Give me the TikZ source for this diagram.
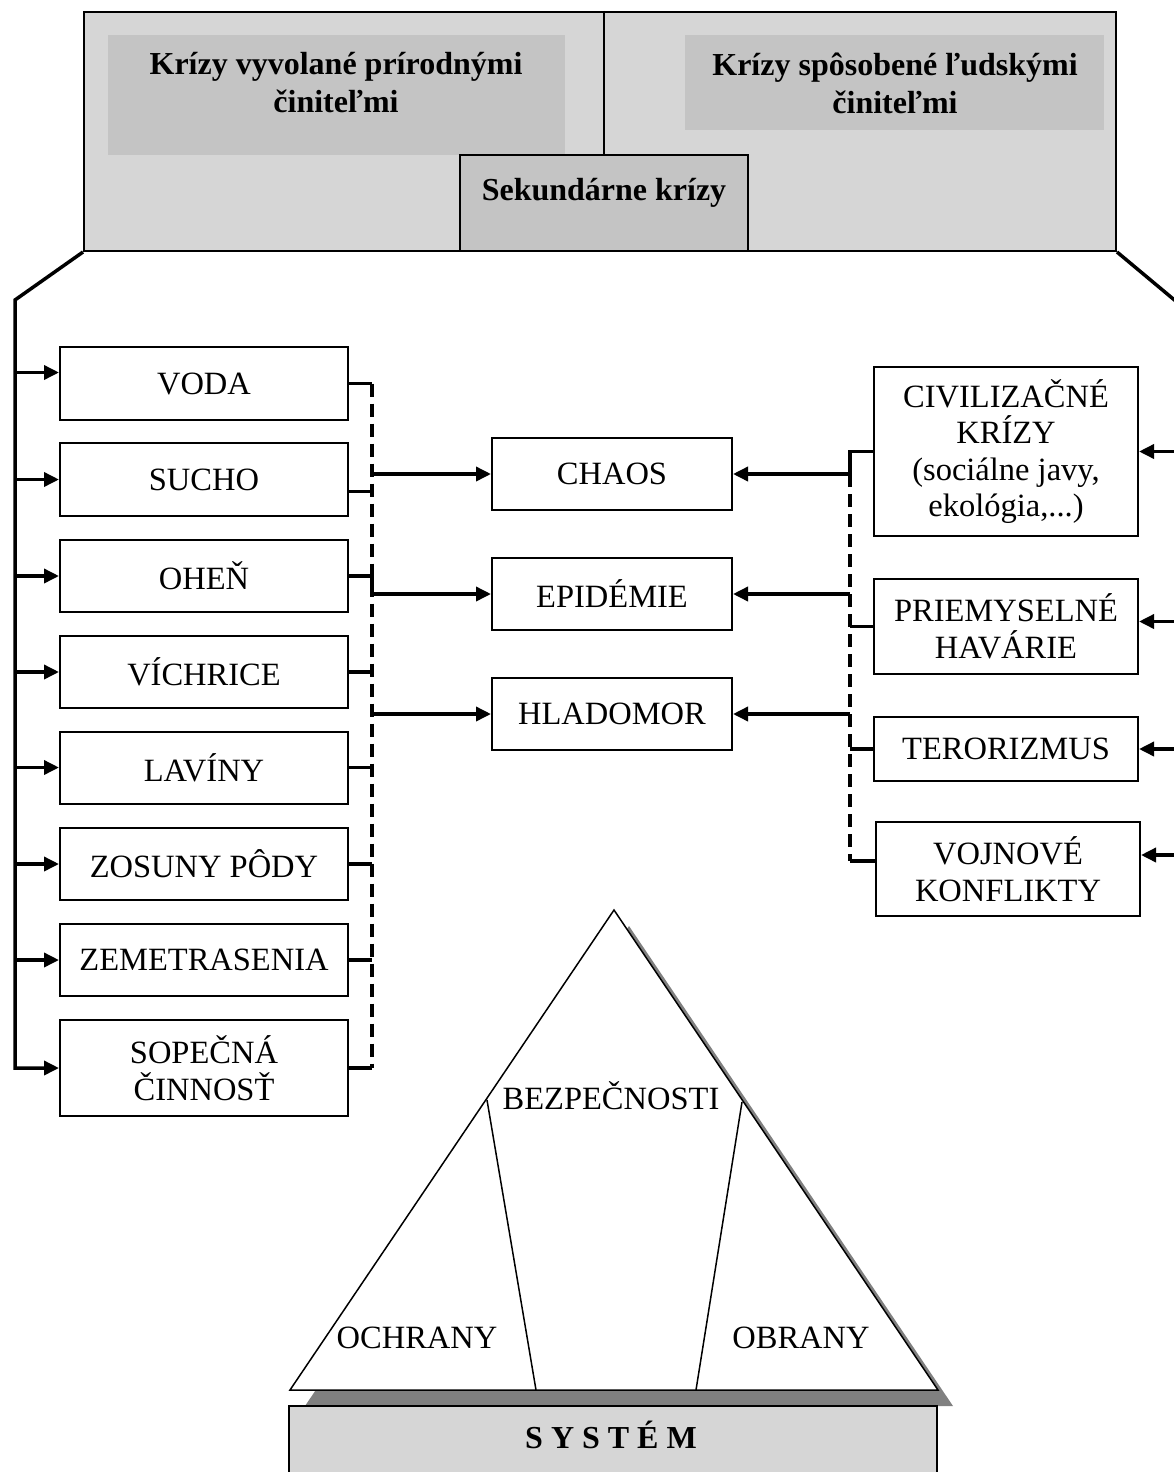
\documentclass[tikz,border=0pt]{standalone}
\usepackage{fontspec}
\setmainfont{Liberation Serif}
\usetikzlibrary{arrows.meta}
\definecolor{bgA}{HTML}{D6D6D6}
\definecolor{bgB}{HTML}{C4C4C4}
\definecolor{shad}{HTML}{808080}
\begin{document}
\begin{tikzpicture}[x=1pt,y=-1pt,
  every node/.style={font=\fontsize{32.5}{36.5}\selectfont},
  box/.style={draw, line width=2pt, fill=white, align=center, inner sep=0pt},
  conn/.style={line width=3.5pt},
  arr/.style={conn, -{Triangle[length=15pt,width=14pt]}},
  dsh/.style={line width=3.5pt, dash pattern=on 13pt off 7pt},
  btxt/.style={font=\fontsize{32}{38}\selectfont\bfseries, align=center},
  thin/.style={line width=1.5pt}]
\useasboundingbox (0,0) rectangle (1174,1472);
\clip (0,0) rectangle (1174,1472);

% ---------- top block ----------
\node[draw, line width=2pt, fill=bgA, minimum width=1032pt, minimum height=239pt, inner sep=0pt] (top) at (600,131.5) {};
\fill[bgB] (108,35) rectangle (565,155);
\fill[bgB] (685,35) rectangle (1104,130);
\node[btxt] (natT) at (336,83) {Krízy vyvolané prírodnými\\činiteľmi};
\node[btxt] (humT) at (895,83) {Krízy spôsobené ľudskými\\činiteľmi};
\node[draw, line width=2pt, fill=bgB, minimum width=288pt, minimum height=96pt, inner sep=0pt,
      font=\fontsize{32}{38}\selectfont\bfseries, text height=20pt, text depth=26pt] (sek) at (604,203) {Sekundárne krízy};
\draw[thin] (sek.north |- top.north) -- (sek.north);

% ---------- left column ----------
\node[box, minimum width=288pt, minimum height=73pt] (voda) at (204,383.5) {VODA};
\node[box, minimum width=288pt, minimum height=73pt] (sucho) at (204,479.5) {SUCHO};
\node[box, minimum width=288pt, minimum height=72pt] (ohen) at (204,576) {OHEŇ};
\node[box, minimum width=288pt, minimum height=72pt] (vich) at (204,672) {VÍCHRICE};
\node[box, minimum width=288pt, minimum height=72pt] (lav) at (204,767.5) {LAVÍNY};
\node[box, minimum width=288pt, minimum height=72pt] (zos) at (204,864) {ZOSUNY PÔDY};
\node[box, minimum width=288pt, minimum height=72pt] (zem) at (204,960) {ZEMETRASENIA};
\node[box, minimum width=288pt, minimum height=96pt] (sop) at (204,1068) {SOPEČNÁ\\ČINNOSŤ};

% ---------- middle column ----------
\node[box, minimum width=240pt, minimum height=72pt] (chaos) at (612,474) {CHAOS};
\node[box, minimum width=240pt, minimum height=72pt] (epid) at (612,594) {EPIDÉMIE};
\node[box, minimum width=240pt, minimum height=72pt] (hlad) at (612,714) {HLADOMOR};

% ---------- right column ----------
\node[box, minimum width=264pt, minimum height=169pt] (civ) at (1006,451.5) {CIVILIZAČNÉ\\KRÍZY\\(sociálne javy,\\ekológia,...)};
\node[box, minimum width=264pt, minimum height=95pt] (priem) at (1006,626.5) {PRIEMYSELNÉ\\HAVÁRIE};
\node[box, minimum width=264pt, minimum height=64pt] (tero) at (1006,749) {TERORIZMUS};
\node[box, minimum width=264pt, minimum height=94pt] (voj) at (1008,869) {VOJNOVÉ\\KONFLIKTY};

% ---------- helper coordinates ----------
\coordinate (tl) at (15,300);
\coordinate (tr) at (1190,313);
\coordinate (lx) at (372,0);
\coordinate (rx) at (850,0);
\coordinate (vodaIn) at ([yshift=11pt]voda.west);
\coordinate (suchoOut) at ([yshift=-12pt]sucho.east);
\coordinate (priemIn) at ([yshift=5pt]priem.east);
\coordinate (vojIn) at ([yshift=14pt]voj.east);
\coordinate (vojOut) at ([yshift=8pt]voj.west);

% ---------- left trunk with arrows ----------
\draw[arr] (top.south west) -- (tl) -- (tl |- sop.west) -- (sop.west);
\draw[arr] (tl |- vodaIn) -- (vodaIn);
\draw[arr] (tl |- sucho.west) -- (sucho.west);
\draw[arr] (tl |- ohen.west) -- (ohen.west);
\draw[arr] (tl |- vich.west) -- (vich.west);
\draw[arr] (tl |- lav.west) -- (lav.west);
\draw[arr] (tl |- zos.west) -- (zos.west);
\draw[arr] (tl |- zem.west) -- (zem.west);

% ---------- right trunk with arrows ----------
\draw[conn] (top.south east) -- (tr) -- (tr |- voj.east);
\draw[arr] (tr |- civ.east) -- (civ.east);
\draw[arr] (tr |- priemIn) -- (priemIn);
\draw[arr] (tr |- tero.east) -- (tero.east);
\draw[arr] (tr |- vojIn) -- (vojIn);

% ---------- left dashed collector ----------
\draw[dsh] (lx |- voda.east) -- (lx |- sop.east);
\draw[conn] (voda.east) -- (lx |- voda.east);
\draw[conn] (suchoOut) -- (lx |- suchoOut);
\draw[conn] (vich.east) -- (lx |- vich.east);
\draw[conn] (lav.east) -- (lx |- lav.east);
\draw[conn] (zos.east) -- (lx |- zos.east);
\draw[conn] (zem.east) -- (lx |- zem.east);
\draw[conn] (sop.east) -- (lx |- sop.east);
\draw[arr] (lx |- chaos.west) -- (chaos.west);
\draw[arr] (ohen.east) -- (lx |- ohen.east) -- (lx |- epid.west) -- (epid.west);
\draw[arr] (lx |- hlad.west) -- (hlad.west);

% ---------- right dashed collector ----------
\draw[dsh] (rx |- chaos.east) -- (rx |- vojOut);
\draw[arr] (civ.west) -- (rx |- civ.west) -- (rx |- chaos.east) -- (chaos.east);
\draw[arr] (rx |- epid.east) -- (epid.east);
\draw[arr] (rx |- hlad.east) -- (hlad.east);
\draw[conn] (priem.west) -- (rx |- priem.west);
\draw[conn] (tero.west) -- (rx |- tero.west);
\draw[conn] (vojOut) -- (rx |- vojOut);

% ---------- pyramid ----------
\coordinate (apex) at (614,910);
\coordinate (bl) at (290,1390);
\coordinate (br) at (938,1390);
\coordinate (la) at (487,1100);
\coordinate (lb) at (536,1390);
\coordinate (ra) at (742,1102);
\coordinate (rb) at (696,1390);
\fill[shad] ([shift={(15,16)}]apex) -- ([shift={(15,16)}]bl) -- ([shift={(15,16)}]br) -- cycle;
\draw[thin, fill=white, line join=miter] (apex) -- (bl) -- (br) -- cycle;
\draw[thin] (la) -- (lb);
\draw[thin] (ra) -- (rb);
\node (bez) at (611,1096) {BEZPEČNOSTI};
\node (och) at (417,1338) {OCHRANY};
\node (obr) at (801,1338) {OBRANY};

% ---------- system ----------
\node[draw, line width=2pt, fill=bgA, minimum width=648pt, minimum height=100pt, inner sep=0pt, anchor=north west] (sys) at (288,1405) {};
\node[font=\fontsize{32}{36}\selectfont\bfseries] (sysT) at (611,1435) {S Y S T É M};
\end{tikzpicture}
\end{document}
